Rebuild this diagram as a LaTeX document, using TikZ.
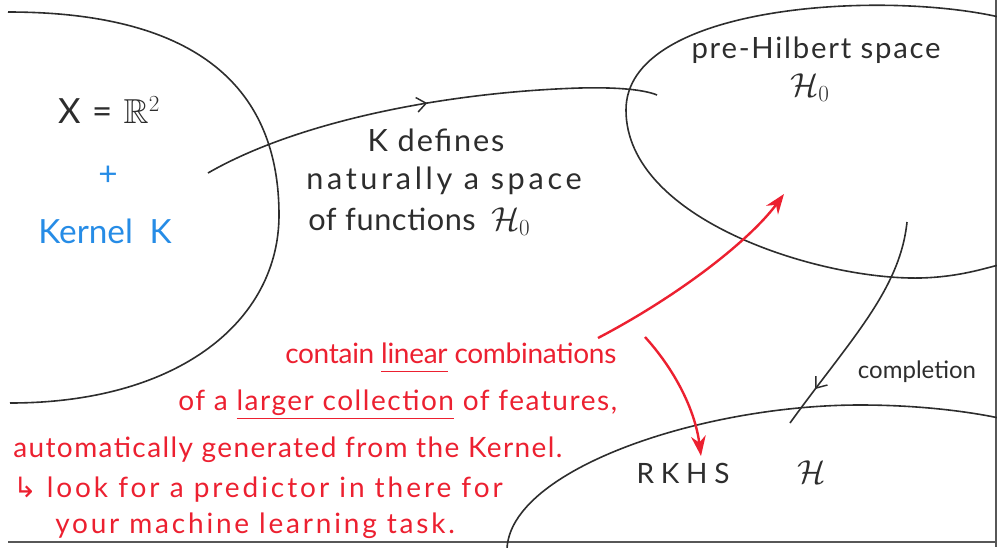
\documentclass[tikz,border=0pt]{standalone}
\usepackage{amssymb}
\usepackage{fontspec}
\setmainfont{Lato}
\newfontfamily\symfont{DejaVu Sans}
\usetikzlibrary{arrows.meta,decorations.markings}

\definecolor{ink}{RGB}{45,45,45}
\definecolor{redink}{RGB}{236,32,48}
\definecolor{blueink}{RGB}{38,140,230}

% underline drawn as a rule below the baseline
\newsavebox\ulbox
\newcommand{\redline}[1]{\sbox\ulbox{#1}\rlap{\raisebox{-7pt}[0pt][0pt]{\rule{\wd\ulbox}{1.3pt}}}\usebox\ulbox}
\newcommand{\spaced}[1]{\addfontfeature{LetterSpace=#1}}

\tikzset{
  region/.style={ink, line width=1.2pt},
  frameline/.style={ink!80, line width=1.4pt},
  blacktxt/.style={ink, font=\fontsize{23}{26}\selectfont, inner sep=0pt},
  bluetxt/.style={blueink, font=\fontsize{25}{28}\selectfont, inner sep=0pt},
  redtxt/.style={redink, font=\fontsize{21}{24}\selectfont, inner sep=0pt, anchor=base west},
  midbarb/.style={postaction={decorate}, decoration={markings,
      mark=at position #1 with {\arrow{Straight Barb[length=7pt,width=11pt,line width=1.1pt]}}}},
  redarrow/.style={redink, line width=1.8pt, -{Stealth[length=15pt,width=11pt]}},
}

\begin{document}
\begin{tikzpicture}[x=0.75pt, y=-0.75pt]
  \useasboundingbox (0,0) rectangle (997,547);
  \begin{scope}
    \clip (0,0) rectangle (997,547);

    % outer frame: right and bottom edges
    \draw[frameline] (996,0) -- (996,547);
    \draw[frameline] (8,542) -- (997,542);

    % input space region (left)
    \draw[region] (8,12) .. controls (200,12) and (279,90) .. (279,215)
                         .. controls (279,320) and (180,403) .. (10,403);

    % pre-Hilbert space region (top right)
    \draw[region] (999,17) .. controls (880,-10) and (626,5) .. (626,110)
                           .. controls (626,220) and (820,280) .. (920,278)
                           .. controls (960,277) and (985,268) .. (999,265);

    % RKHS region (bottom right)
    \draw[region] (507,549) .. controls (510,470) and (700,405) .. (860,405)
                            .. controls (930,405) and (980,414) .. (999,418);
  \end{scope}

  % texts in the input space
  \node[blacktxt, font=\fontsize{26}{30}\selectfont] (xspace) at (109,110) {X\,\,=\,\,$\mathbb{R}^2$};
  \node[bluetxt] (plus) at (108,176) {+};
  \node[bluetxt] (kernel) at (105,231) {Kernel\enspace K};

  % middle explanation
  \node[blacktxt] (kdef1) at (436,140) {\spaced{6}K defines};
  \node[blacktxt] (kdef2) at (444,181) {\spaced{12}naturally a space};
  \node[blacktxt, anchor=west] (kdef3) at (308,222) {\spaced{2}of functions\enspace $\mathcal{H}_0$};

  % pre-Hilbert space label
  \node[blacktxt, font=\fontsize{22}{25}\selectfont] (preh) at (816,50) {\spaced{6}pre-Hilbert space};
  \node[blacktxt] (h0) at (810,88) {$\mathcal{H}_0$};

  % RKHS label
  \node[blacktxt, font=\fontsize{21}{24}\selectfont] (rkhs) at (683,473) {\spaced{24}RKHS};
  \node[blacktxt] (hcal) at (812,472) {$\mathcal{H}$};

  % completion label
  \node[blacktxt, font=\fontsize{18}{21}\selectfont] (compl) at (917,372) {completion};

  % red remarks
  \node[redtxt] (r1) at (285,363) {\spaced{-1}contain \redline{linear} combinations};
  \node[redtxt] (r2) at (178,410) {\spaced{5.5}of a \redline{larger collection} of features,};
  \node[redtxt] (r3) at (13,457) {\spaced{5}automatically generated from the Kernel.};
  \node[redtxt] (r4) at (13,497) {\spaced{10.5}{\symfont ↳} look for a predictor in there for};
  \node[redtxt] (r5) at (55,533) {\spaced{10}your machine learning task.};

  % connector end points
  \coordinate (kS) at (208,173);
  \coordinate (kE) at (657,95);
  \coordinate (cS) at (907,222);
  \coordinate (cE) at (790,423);
  \coordinate (rS1) at (598,338);
  \coordinate (rE1) at (784,194);
  \coordinate (rS2) at (645,337);
  \coordinate (rE2) at (701,456);

  % K defines H0
  \draw[region, midbarb=0.5] (kS) .. controls (300,120) and (450,92) .. (580,88)
                                  .. controls (620,87) and (645,90) .. (kE);

  % completion H0 -> H
  \draw[region, midbarb=0.82] (cS) .. controls (900,290) and (850,340) .. (cE);

  % red arrows from the remark
  \draw[redarrow] (rS1) .. controls (680,295) and (750,240) .. (rE1);
  \draw[redarrow] (rS2) .. controls (675,370) and (695,410) .. (rE2);
\end{tikzpicture}
\end{document}
